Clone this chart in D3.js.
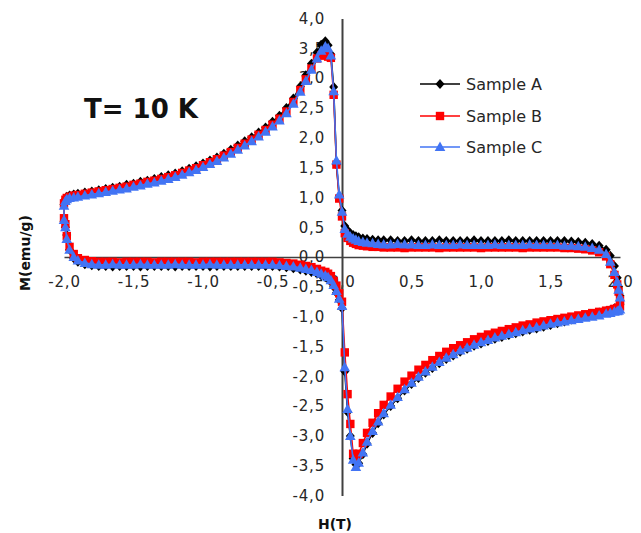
<!DOCTYPE html>
<html>
<head>
<meta charset="utf-8">
<script src="https://cdn.jsdelivr.net/npm/d3@7"></script>
<style>
  html, body { margin: 0; padding: 0; background: #fff; }
  svg { display: block; }
</style>
</head>
<body>
<svg id="chart" width="641" height="533"></svg>
<script>
// ---------------- DATA ----------------
const H_GRID = [
  -2.00, -1.99, -1.98, -1.96, -1.93, -1.90,
  -1.85, -1.80, -1.75, -1.70, -1.65, -1.60, -1.55, -1.50, -1.45, -1.40, -1.35, -1.30, -1.25, -1.20, -1.15, -1.10,
  -1.05, -1.00, -0.95, -0.90, -0.85, -0.80, -0.75, -0.70, -0.65, -0.60, -0.55, -0.50, -0.45, -0.40, -0.35, -0.30,
  -0.26, -0.22, -0.18, -0.15, -0.12, -0.10, -0.08, -0.06, -0.04, -0.02,
  0.00,
  0.02, 0.04, 0.06, 0.08, 0.10, 0.12, 0.15, 0.18, 0.22, 0.26,
  0.30, 0.35, 0.40, 0.45, 0.50, 0.55, 0.60, 0.65, 0.70, 0.75, 0.80, 0.85, 0.90, 0.95, 1.00, 1.05,
  1.10, 1.15, 1.20, 1.25, 1.30, 1.35, 1.40, 1.45, 1.50, 1.55, 1.60, 1.65, 1.70, 1.75, 1.80, 1.85,
  1.90, 1.93, 1.96, 1.98, 1.99, 2.00
];

// Sample A (black)
const A_UPPER = [
  0.88, 0.97, 1.01, 1.03, 1.05, 1.06,
  1.08, 1.10, 1.12, 1.14, 1.16, 1.18, 1.21, 1.23, 1.26, 1.28, 1.31, 1.34, 1.37, 1.40, 1.44, 1.48,
  1.52, 1.57, 1.62, 1.67, 1.73, 1.80, 1.87, 1.94, 2.01, 2.09, 2.17, 2.27, 2.37, 2.50, 2.66, 2.86,
  3.05, 3.24, 3.43, 3.56, 3.62, 3.55, 3.40, 2.85, 1.55, 1.02,
  0.78,
  0.52, 0.45, 0.40, 0.37, 0.35, 0.33, 0.31, 0.30, 0.29, 0.28,
  0.28, 0.28, 0.27, 0.27, 0.28, 0.27, 0.27, 0.27, 0.28, 0.27, 0.27, 0.27, 0.27, 0.28, 0.27, 0.27,
  0.27, 0.27, 0.28, 0.27, 0.27, 0.27, 0.27, 0.27, 0.27, 0.27, 0.27, 0.26, 0.25, 0.24, 0.22, 0.19,
  0.12, 0.02, -0.15, -0.35, -0.50, -0.65
];
const A_LOWER = [
  0.60, 0.50, 0.37, 0.12, -0.02, -0.08,
  -0.12, -0.14, -0.15, -0.15, -0.16, -0.15, -0.15, -0.15, -0.16, -0.15, -0.15, -0.15, -0.15, -0.16, -0.15, -0.15,
  -0.15, -0.15, -0.16, -0.15, -0.15, -0.15, -0.15, -0.15, -0.15, -0.15, -0.15, -0.15, -0.16, -0.17, -0.19, -0.21,
  -0.23, -0.25, -0.28, -0.31, -0.34, -0.37, -0.42, -0.50, -0.60, -0.72,
  -0.86,
  -1.92, -2.60, -3.00, -3.38, -3.48, -3.46, -3.31, -3.13, -2.95, -2.79,
  -2.64, -2.50, -2.37, -2.24, -2.13, -2.03, -1.94, -1.86, -1.78, -1.71, -1.65, -1.59, -1.54, -1.49, -1.45, -1.41,
  -1.37, -1.34, -1.31, -1.28, -1.25, -1.22, -1.20, -1.17, -1.14, -1.11, -1.08, -1.05, -1.02, -0.99, -0.96, -0.93,
  -0.91, -0.89, -0.86, -0.84, -0.82, -0.80
];

// Sample B (red)
const B_UPPER = [
  0.90, 0.96, 0.99, 1.01, 1.03, 1.04,
  1.06, 1.08, 1.10, 1.12, 1.14, 1.16, 1.18, 1.21, 1.23, 1.26, 1.28, 1.31, 1.34, 1.37, 1.41, 1.45,
  1.49, 1.54, 1.59, 1.64, 1.70, 1.76, 1.83, 1.90, 1.97, 2.05, 2.13, 2.22, 2.32, 2.44, 2.60, 2.80,
  2.98, 3.16, 3.33, 3.38, 3.38, 3.36, 3.34, 2.72, 1.55, 0.98,
  0.68,
  0.40, 0.32, 0.27, 0.24, 0.22, 0.20, 0.19, 0.18, 0.17, 0.17,
  0.16, 0.16, 0.16, 0.15, 0.16, 0.16, 0.16, 0.16, 0.15, 0.16, 0.16, 0.16, 0.16, 0.16, 0.15, 0.16,
  0.16, 0.16, 0.16, 0.16, 0.15, 0.16, 0.16, 0.16, 0.16, 0.16, 0.15, 0.15, 0.14, 0.13, 0.11, 0.08,
  0.01, -0.12, -0.30, -0.46, -0.58, -0.72
];
const B_LOWER = [
  0.65, 0.55, 0.35, 0.17, 0.05, -0.02,
  -0.05, -0.07, -0.08, -0.08, -0.08, -0.09, -0.08, -0.08, -0.08, -0.08, -0.09, -0.08, -0.08, -0.08, -0.08, -0.08,
  -0.09, -0.08, -0.08, -0.08, -0.08, -0.08, -0.08, -0.08, -0.08, -0.08, -0.08, -0.08, -0.09, -0.10, -0.11, -0.13,
  -0.15, -0.17, -0.20, -0.23, -0.25, -0.28, -0.32, -0.40, -0.48, -0.61,
  -0.75,
  -1.60, -2.30, -2.80, -3.30, -3.35, -3.30, -3.12, -2.95, -2.78, -2.62,
  -2.48, -2.34, -2.21, -2.09, -1.99, -1.89, -1.81, -1.73, -1.66, -1.59, -1.53, -1.48, -1.43, -1.38, -1.34, -1.30,
  -1.27, -1.24, -1.21, -1.18, -1.15, -1.13, -1.10, -1.08, -1.06, -1.04, -1.02, -1.00, -0.98, -0.96, -0.94, -0.92,
  -0.90, -0.89, -0.87, -0.86, -0.85, -0.83
];

// Sample C (blue)
const C_UPPER = [
  0.86, 0.94, 0.97, 0.99, 1.00, 1.01,
  1.03, 1.05, 1.07, 1.09, 1.11, 1.13, 1.15, 1.18, 1.20, 1.23, 1.25, 1.28, 1.31, 1.34, 1.38, 1.42,
  1.46, 1.51, 1.56, 1.61, 1.67, 1.73, 1.80, 1.87, 1.94, 2.02, 2.10, 2.19, 2.29, 2.41, 2.57, 2.77,
  2.95, 3.14, 3.33, 3.46, 3.53, 3.50, 3.38, 2.78, 1.62, 1.05,
  0.76,
  0.47, 0.39, 0.34, 0.31, 0.29, 0.27, 0.25, 0.24, 0.23, 0.22,
  0.21, 0.21, 0.22, 0.21, 0.21, 0.20, 0.20, 0.21, 0.20, 0.20, 0.20, 0.21, 0.20, 0.20, 0.20, 0.20,
  0.21, 0.20, 0.20, 0.20, 0.20, 0.21, 0.20, 0.20, 0.20, 0.20, 0.19, 0.19, 0.18, 0.17, 0.15, 0.12,
  0.05, -0.08, -0.25, -0.42, -0.55, -0.68
];
const C_LOWER = [
  0.62, 0.50, 0.30, 0.12, 0.00, -0.06,
  -0.10, -0.12, -0.13, -0.13, -0.12, -0.13, -0.13, -0.13, -0.12, -0.13, -0.13, -0.13, -0.13, -0.12, -0.13, -0.13,
  -0.13, -0.13, -0.12, -0.13, -0.13, -0.13, -0.13, -0.13, -0.13, -0.13, -0.13, -0.13, -0.14, -0.15, -0.16, -0.18,
  -0.20, -0.22, -0.25, -0.28, -0.31, -0.34, -0.39, -0.47, -0.57, -0.70,
  -0.82,
  -1.85, -2.55, -3.00, -3.40, -3.52, -3.45, -3.28, -3.10, -2.92, -2.76,
  -2.62, -2.48, -2.35, -2.22, -2.11, -2.01, -1.92, -1.84, -1.76, -1.69, -1.63, -1.57, -1.52, -1.47, -1.43, -1.39,
  -1.35, -1.32, -1.29, -1.26, -1.23, -1.20, -1.18, -1.15, -1.12, -1.10, -1.08, -1.06, -1.04, -1.02, -1.00, -0.98,
  -0.95, -0.94, -0.92, -0.91, -0.90, -0.88
];

const SERIES_NAMES = ["Sample A", "Sample B", "Sample C"];
const X_TICKS = [-2.0, -1.5, -1.0, -0.5, 0.0, 0.5, 1.0, 1.5, 2.0];
const Y_TICKS = [-4.0, -3.5, -3.0, -2.5, -2.0, -1.5, -1.0, -0.5, 0.0, 0.5, 1.0, 1.5, 2.0, 2.5, 3.0, 3.5, 4.0];
const TITLE = "T= 10 K";
const X_LABEL = "H(T)";
const Y_LABEL = "M(emu/g)";

// ---------------- CHART ----------------
const svg = d3.select("#chart");
const FONT = "'DejaVu Sans', Verdana, sans-serif";

const x = d3.scaleLinear().domain([-2, 2]).range([64, 620]);
const y = d3.scaleLinear().domain([-4, 4]).range([495.5, 18.5]);

const fmt = v => d3.format(".1f")(v).replace("−", "-").replace("-0.0", "0.0").replace(".", ",");

// axes (crossing at origin)
const xAxis = svg.append("g")
  .attr("transform", `translate(0,${y(0)})`)
  .call(d3.axisBottom(x).tickValues(X_TICKS).tickSize(0).tickSizeOuter(0).tickPadding(19).tickFormat(fmt));
xAxis.select(".domain").attr("stroke", "#404040").attr("stroke-width", 1.5);
xAxis.selectAll("text").attr("font-family", FONT).attr("font-size", 15)
  .attr("letter-spacing", "0.8px").attr("fill", "#262626");

const yAxis = svg.append("g")
  .attr("transform", `translate(${x(0)},0)`)
  .call(d3.axisLeft(y).tickValues(Y_TICKS).tickSize(0).tickSizeOuter(0).tickPadding(17).tickFormat(fmt));
yAxis.select(".domain").attr("stroke", "#404040").attr("stroke-width", 2);
yAxis.selectAll("text").attr("font-family", FONT).attr("font-size", 15)
  .attr("letter-spacing", "0.8px").attr("fill", "#262626");

// marker shapes
function markerPath(kind) {
  if (kind === "diamond") return "M0,-5L4.5,0L0,5L-4.5,0Z";
  if (kind === "square") return "M-4.2,-4.2H4.2V4.2H-4.2Z";
  return "M0,-5.5L5.3,4H-5.3Z";
}

const series = [
  { name: SERIES_NAMES[0], upper: A_UPPER, lower: A_LOWER, color: "#000000", marker: "diamond" },
  { name: SERIES_NAMES[1], upper: B_UPPER, lower: B_LOWER, color: "#ff0000", marker: "square" },
  { name: SERIES_NAMES[2], upper: C_UPPER, lower: C_LOWER, color: "#4274f4", marker: "triangle" }
];

const line = d3.line().x(d => x(d[0])).y(d => y(d[1]));

series.forEach(s => {
  const up = H_GRID.map((h, i) => [h, s.upper[i]]);
  const lo = H_GRID.map((h, i) => [h, s.lower[i]]).reverse();
  const pts = up.concat(lo);
  const g = svg.append("g");
  g.append("path")
    .attr("d", line(pts) + "Z")
    .attr("fill", "none")
    .attr("stroke", s.color)
    .attr("stroke-width", 1.6);
  g.selectAll("path.m").data(pts).join("path")
    .attr("class", "m")
    .attr("transform", d => `translate(${x(d[0])},${y(d[1])})`)
    .attr("d", markerPath(s.marker))
    .attr("fill", s.color);
});

// title
svg.append("text")
  .attr("x", 84).attr("y", 118)
  .attr("font-family", FONT).attr("font-weight", "bold").attr("font-size", 26)
  .attr("fill", "#111")
  .text(TITLE);

// axis titles
svg.append("text")
  .attr("x", 335).attr("y", 529)
  .attr("text-anchor", "middle")
  .attr("font-family", FONT).attr("font-weight", "bold").attr("font-size", 14)
  .attr("fill", "#111")
  .text(X_LABEL);

svg.append("text")
  .attr("transform", "translate(30,253) rotate(-90)")
  .attr("text-anchor", "middle")
  .attr("font-family", FONT).attr("font-weight", "bold").attr("font-size", 14)
  .attr("fill", "#111")
  .text(Y_LABEL);

// legend
const legendY = [84, 116, 147];
series.forEach((s, i) => {
  const g = svg.append("g").attr("transform", `translate(420,${legendY[i]})`);
  g.append("line").attr("x1", 0).attr("x2", 40).attr("y1", 0).attr("y2", 0)
    .attr("stroke", s.color).attr("stroke-width", 1.5);
  g.append("path").attr("transform", "translate(20,0)").attr("d", markerPath(s.marker)).attr("fill", s.color);
  g.append("text").attr("x", 46).attr("y", 0).attr("dy", "0.36em")
    .attr("font-family", FONT).attr("font-size", 16).attr("fill", "#262626")
    .text(s.name);
});
</script>
</body>
</html>
